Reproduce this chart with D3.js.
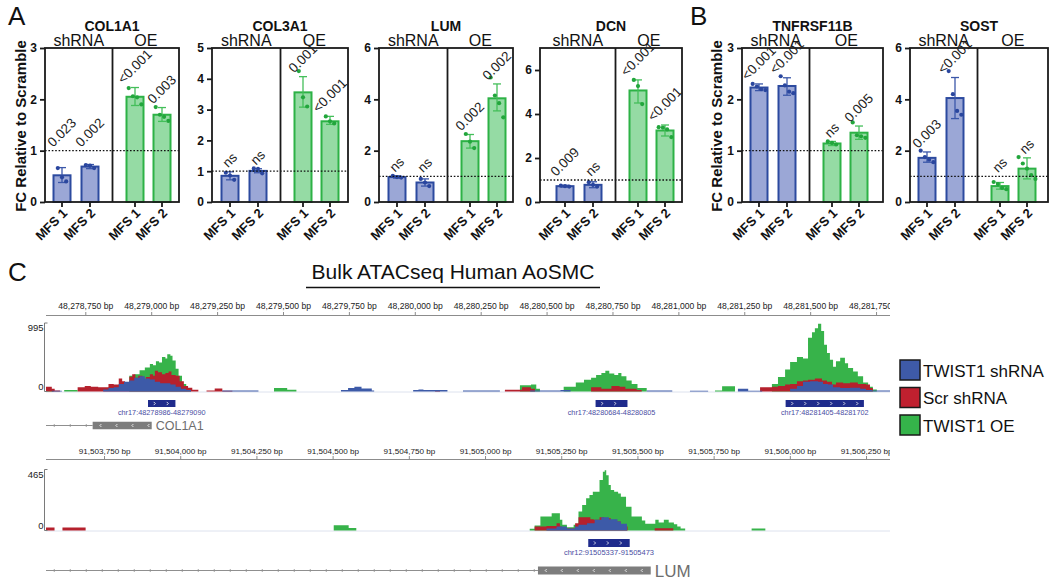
<!DOCTYPE html>
<html>
<head>
<meta charset="utf-8">
<script src="https://cdn.jsdelivr.net/npm/d3@7/dist/d3.min.js"></script>
<style>
html,body{margin:0;padding:0;background:#fff;}
svg{display:block;font-family:"Liberation Sans",Arial,Helvetica,sans-serif;}
</style>
</head>
<body>
<svg id="fig" width="1050" height="583"></svg>
<script>
// ================= DATA =================
const conditions = ["shRNA", "OE"];
const samples = ["MFS 1", "MFS 2", "MFS 1", "MFS 2"];
const genes = ["COL1A1", "COL3A1", "LUM", "DCN", "TNFRSF11B", "SOST"];
const yMaxes = [3, 5, 6, 7, 3, 6];
const yTicks = [[0,1,2,3],[0,1,2,3,4,5],[0,2,4,6],[0,2,4,6],[0,1,2,3],[0,2,4,6]];
const refLine = 1;

const col1a1Mean = [0.52, 0.69, 2.05, 1.70];
const col1a1Err  = [[0.38,0.67],[0.65,0.73],[1.88,2.23],[1.57,1.84]];
const col1a1Pts  = [[0.66,0.48,0.40],[0.72,0.71,0.66],[2.22,2.06,2.04,1.90],[1.85,1.70,1.66,1.58]];
const col1a1P    = ["0.023","0.002","<0.001","0.003"];

const col3a1Mean = [0.85, 1.01, 3.56, 2.62];
const col3a1Err  = [[0.72,0.98],[0.95,1.08],[3.08,4.07],[2.52,2.78]];
const col3a1Pts  = [[0.95,0.86,0.72],[1.09,1.08,0.93],[4.25,3.40,3.10],[2.78,2.62,2.55]];
const col3a1P    = ["ns","ns","0.001","<0.001"];

const lumMean = [0.97, 0.76, 2.37, 4.04];
const lumErr  = [[0.93,1.02],[0.62,0.90],[2.10,2.63],[3.55,4.60]];
const lumPts  = [[1.02,0.97,0.95],[0.90,0.76,0.62],[2.65,2.35,2.10],[4.85,4.15,3.85,3.30]];
const lumP    = ["ns","ns","0.002","0.002"];

const dcnMean = [0.72, 0.78, 5.07, 3.25];
const dcnErr  = [[0.68,0.76],[0.65,0.92],[4.50,5.55],[3.00,3.50]];
const dcnPts  = [[0.74,0.72,0.70],[0.90,0.78,0.70],[5.55,5.27,4.45],[3.40,3.38,3.30,2.95]];
const dcnP    = ["0.009","ns","<0.001","<0.001"];

const tnfMean = [2.23, 2.26, 1.14, 1.35];
const tnfErr  = [[2.17,2.30],[2.08,2.42],[1.10,1.18],[1.22,1.48]];
const tnfPts  = [[2.30,2.25,2.20,2.18],[2.45,2.27,2.15,2.12],[1.18,1.15,1.12],[1.55,1.30,1.28,1.25]];
const tnfP    = ["<0.001","<0.001","ns","0.005"];

const sostMean = [1.72, 4.05, 0.62, 1.30];
const sostErr  = [[1.55,1.95],[3.25,4.85],[0.50,0.76],[0.90,1.72]];
const sostPts  = [[2.00,1.75,1.65,1.55],[5.10,4.20,3.55,3.40],[0.78,0.70,0.55,0.50],[1.75,1.50,1.30,1.05,0.90]];
const sostP    = ["0.003","<0.001","ns","ns"];

// ATAC-seq tracks
const legendLabels = ["TWIST1 shRNA", "Scr shRNA", "TWIST1 OE"];
const t1Chrom = "chr17", t1Start = 48278599, t1End = 48281801, t1Max = 995;
const t1Ticks = [48278750,48279000,48279250,48279500,48279750,48280000,48280250,48280500,48280750,48281000,48281250,48281500,48281750];
const t1Origin = 48278599; // signal steps are [bp offset from origin, value]
const t1Green = [[0,15],[29,0],[69,20],[120,0],[316,230],[335,250],[355,310],[375,350],[394,400],[406,380],[417,440],[429,420],[440,500],[453,480],[460,540],[472,520],[480,450],[492,330],[503,230],[516,110],[532,50],[550,0],[865,50],[915,25],[950,0],[1798,90],[1840,100],[1860,40],[1874,0],[1964,70],[2010,130],[2041,170],[2068,200],[2087,240],[2107,270],[2122,300],[2137,260],[2156,240],[2171,270],[2183,220],[2202,160],[2222,110],[2244,50],[2279,0],[2538,15],[2565,75],[2614,0],[2754,110],[2777,210],[2804,320],[2823,430],[2849,500],[2872,480],[2891,780],[2906,860],[2917,920],[2929,985],[2941,880],[2952,680],[2963,560],[2974,460],[2986,360],[2997,440],[3013,490],[3031,410],[3043,340],[3062,290],[3080,220],[3100,130],[3119,70],[3137,30],[3152,0]];
const t1Red = [[0,70],[22,40],[33,15],[53,0],[120,60],[147,80],[170,70],[198,60],[237,110],[257,100],[276,190],[289,150],[300,120],[316,215],[327,250],[339,200],[350,230],[366,180],[379,210],[394,250],[406,230],[413,300],[425,280],[440,250],[453,270],[465,290],[476,240],[492,230],[507,150],[523,80],[539,55],[555,25],[578,0],[609,15],[640,45],[669,10],[707,0],[1476,20],[1495,0],[1741,25],[1806,60],[1840,40],[1855,0],[2068,60],[2107,40],[2145,80],[2176,70],[2198,40],[2241,20],[2260,0],[2709,60],[2754,70],[2777,80],[2804,100],[2823,110],[2849,150],[2872,160],[2891,170],[2917,190],[2944,160],[2963,140],[2982,100],[2997,130],[3024,120],[3050,130],[3080,110],[3111,100],[3126,50],[3137,0]];
const t1Blue = [[22,10],[60,0],[217,30],[237,50],[257,60],[276,110],[296,140],[316,160],[335,200],[355,220],[375,190],[394,175],[413,140],[433,120],[453,120],[472,100],[492,70],[512,40],[532,20],[550,0],[669,15],[806,0],[1119,20],[1146,50],[1170,70],[1197,45],[1236,15],[1245,0],[1393,20],[1413,30],[1432,20],[1523,0],[1582,15],[1722,0],[1837,15],[1952,20],[1990,0],[2279,15],[2376,0],[2443,12],[2512,0],[2625,40],[2664,10],[2717,0],[2823,40],[2849,80],[2872,140],[2899,150],[2929,140],[2948,110],[2967,100],[2986,60],[3013,50],[3050,55],[3089,40],[3111,20],[3134,15],[3202,0]];
const t1Peaks = [[48278986,48279090],[48280684,48280805],[48281405,48281702]];
const t1GeneName = "COL1A1", t1Exon = [48278776, 48279000];

const t2Chrom = "chr12", t2Start = 91503558, t2End = 91506327, t2Max = 465;
const t2Ticks = [91503750,91504000,91504250,91504500,91504750,91505000,91505250,91505500,91505750,91506000,91506250];
const t2Green = [[91504502,40],[91504551,20],[91504576,0],[91505145,13],[91505161,38],[91505180,106],[91505217,132],[91505244,81],[91505252,43],[91505267,25],[91505289,43],[91505305,144],[91505317,195],[91505330,245],[91505341,270],[91505352,296],[91505374,385],[91505385,448],[91505391,460],[91505396,422],[91505404,347],[91505411,309],[91505422,296],[91505435,283],[91505444,258],[91505461,182],[91505479,106],[91505513,76],[91505524,51],[91505557,81],[91505568,61],[91505585,81],[91505601,61],[91505618,48],[91505629,30],[91505640,15],[91505655,0],[91505873,15],[91505918,0]];
const t2Red = [[91503558,22],[91503586,0],[91503612,22],[91503688,0],[91505161,30],[91505200,35],[91505233,56],[91505244,30],[91505250,15],[91505294,56],[91505305,101],[91505344,86],[91505355,81],[91505374,101],[91505389,94],[91505411,68],[91505444,30],[91505466,0],[91505555,18],[91505616,0]];
const t2Blue = [[91505200,15],[91505233,30],[91505267,15],[91505294,30],[91505305,43],[91505333,56],[91505358,81],[91505380,101],[91505405,86],[91505433,68],[91505444,51],[91505464,0]];
const t2Peaks = [[91505337,91505473]];
const t2GeneName = "LUM", t2Exon = [91505172, 91505542];

// ================= STYLE / LAYOUT =================
const FONT = '"Liberation Sans", Arial, Helvetica, sans-serif';
const shStyle = {fill:"#9ba7d6", stroke:"#2c4a9f", err:"#3b57a9", pt:"#2a469e"};
const oeStyle = {fill:"#95dba4", stroke:"#2db246", err:"#44bf5a", pt:"#22a63c"};
const sigColors = {blue:"#3d5aa8", red:"#b5212d", green:"#37b34a"};
const legendColors = ["#3e5aa8", "#c0202f", "#35b44a"];
const chartLayout = [
  {L:45,  W:134, pad:17},
  {L:212, W:136, pad:18},
  {L:379, W:134, pad:18},
  {L:540, W:142, pad:25},
  {L:742, W:141, pad:17},
  {L:910, W:138, pad:17}
];
const barOffsets = [0, 28, 73, 100];
const barW = 17;

const svg = d3.select("#fig");
svg.append("rect").attr("width",1050).attr("height",583).attr("fill","#fff");

const meansAll = [col1a1Mean, col3a1Mean, lumMean, dcnMean, tnfMean, sostMean];
const errAll = [col1a1Err, col3a1Err, lumErr, dcnErr, tnfErr, sostErr];
const ptsAll = [col1a1Pts, col3a1Pts, lumPts, dcnPts, tnfPts, sostPts];
const pAll = [col1a1P, col3a1P, lumP, dcnP, tnfP, sostP];

function drawBarChart(i) {
  const lay = chartLayout[i];
  const top = 48, bottom = 202;
  const y = d3.scaleLinear().domain([0, yMaxes[i]]).range([bottom, top]);
  const x = d3.scaleOrdinal().domain(d3.range(4)).range(barOffsets.map(o => lay.L + lay.pad + o));
  const divX = lay.L + lay.pad + (barOffsets[1] + barOffsets[2]) / 2;
  const right = lay.L + lay.W;
  const g = svg.append("g");
  const st = j => (j < 2 ? shStyle : oeStyle);
  const mean = meansAll[i], err = errAll[i], pts = ptsAll[i], pv = pAll[i];

  g.append("text").attr("x", lay.L + lay.W/2).attr("y", 31).attr("text-anchor","middle")
    .attr("font-size",14).attr("font-weight","bold").attr("fill","#111").text(genes[i]);
  g.append("text").attr("x", (lay.L + divX)/2).attr("y", 46).attr("text-anchor","middle")
    .attr("font-size",16).attr("fill","#111").text(conditions[0]);
  g.append("text").attr("x", (divX + right)/2).attr("y", 46).attr("text-anchor","middle")
    .attr("font-size",16).attr("fill","#111").text(conditions[1]);

  g.selectAll("rect.bar").data(mean).join("rect").attr("class","bar")
    .attr("x", (d,j) => x(j) - barW/2).attr("y", d => y(d))
    .attr("width", barW).attr("height", d => y(0) - y(d))
    .attr("fill", (d,j) => st(j).fill).attr("stroke", (d,j) => st(j).stroke).attr("stroke-width", 2);

  err.forEach((e, j) => {
    const c = st(j).err;
    g.append("line").attr("x1", x(j)).attr("x2", x(j)).attr("y1", y(e[0])).attr("y2", y(e[1]))
      .attr("stroke", c).attr("stroke-width", 1.3);
    [e[0], e[1]].forEach(v => g.append("line").attr("x1", x(j)-4).attr("x2", x(j)+4)
      .attr("y1", y(v)).attr("y2", y(v)).attr("stroke", c).attr("stroke-width", 1.3));
  });

  pts.forEach((arr, j) => arr.forEach((v, k) => {
    g.append("circle").attr("cx", x(j) + (k - (arr.length-1)/2) * 4.2).attr("cy", y(v))
      .attr("r", 2.1).attr("fill", st(j).pt);
  }));

  g.append("line").attr("x1", lay.L).attr("x2", right).attr("y1", y(refLine)).attr("y2", y(refLine))
    .attr("stroke","#111").attr("stroke-width",1.3).attr("stroke-dasharray","1.6,1.8");

  g.append("rect").attr("x", lay.L).attr("y", top).attr("width", lay.W).attr("height", bottom - top)
    .attr("fill","none").attr("stroke","#1a1a1a").attr("stroke-width",1.8);
  g.append("line").attr("x1", divX).attr("x2", divX).attr("y1", top).attr("y2", bottom)
    .attr("stroke","#1a1a1a").attr("stroke-width",1.8);

  const ax = g.append("g").attr("transform", `translate(${lay.L},0)`)
    .call(d3.axisLeft(y).tickValues(yTicks[i]).tickSize(5).tickPadding(3).tickFormat(d3.format("d")));
  ax.attr("font-family", FONT);
  ax.select(".domain").remove();
  ax.selectAll(".tick line").attr("stroke","#1a1a1a").attr("stroke-width",1.8);
  ax.selectAll(".tick text").attr("font-size",12).attr("font-weight","bold").attr("fill","#111");

  d3.range(4).forEach(j => {
    g.append("line").attr("x1", x(j)).attr("x2", x(j)).attr("y1", bottom).attr("y2", bottom + 5)
      .attr("stroke","#1a1a1a").attr("stroke-width",1.8);
    g.append("text").attr("transform", `translate(${x(j)+6},${bottom+12}) rotate(-45)`)
      .attr("text-anchor","end").attr("font-size",13).attr("font-weight","bold").attr("fill","#111")
      .text(samples[j]);
  });

  pv.forEach((p, j) => {
    const base = Math.max(err[j][1], refLine);
    const t = g.append("text").attr("font-size",13.5).attr("fill","#222").attr("text-anchor","middle").text(p);
    const L = t.node().getComputedTextLength();
    const qx = x(j) + 3, qy = y(base) - 3 - 0.354 * L;
    t.attr("transform", `translate(${qx},${qy}) rotate(-45)`);
  });
}
d3.range(genes.length).forEach(drawBarChart);

// y-axis titles and panel letters
[26, 722].forEach(xx => svg.append("text").attr("transform", `translate(${xx},126) rotate(-90)`)
  .attr("text-anchor","middle").attr("font-size",15).attr("font-weight","bold").attr("fill","#111")
  .text("FC Relative to Scramble"));
svg.append("text").attr("x",8).attr("y",25).attr("font-size",26).attr("fill","#111").text("A");
svg.append("text").attr("x",690).attr("y",25).attr("font-size",26).attr("fill","#111").text("B");
svg.append("text").attr("x",8).attr("y",281).attr("font-size",26).attr("fill","#111").text("C");

// Panel C title
svg.append("text").attr("x",453).attr("y",279).attr("text-anchor","middle").attr("font-size",21)
  .attr("fill","#111").text("Bulk ATACseq Human AoSMC");
svg.append("line").attr("x1",306).attr("x2",600).attr("y1",287.5).attr("y2",287.5)
  .attr("stroke","#111").attr("stroke-width",1.6);

// ================= TRACKS =================
const trackX0 = 46, trackX1 = 890;
function chevrons(g, x0, x1, yc, dir, color, step, size) {
  const pts = d3.range(x0 + step/2, x1 - 2, step);
  pts.forEach(px => {
    const d = dir > 0
      ? `M${px-size/2},${yc-size} L${px+size/2},${yc} L${px-size/2},${yc+size}`
      : `M${px+size/2},${yc-size} L${px-size/2},${yc} L${px+size/2},${yc+size}`;
    g.append("path").attr("d", d).attr("fill","none").attr("stroke", color).attr("stroke-width",0.8);
  });
}

function drawTrack(t) {
  const x = d3.scaleLinear().domain([t.start, t.end]).range([trackX0, trackX1]);
  const y = d3.scaleLinear().domain([0, t.max]).range([t.base, t.top]);
  const g = svg.append("g");
  const clipId = "clip" + t.id;
  svg.append("clipPath").attr("id", clipId).append("rect")
    .attr("x", trackX0).attr("y", t.rulerY - 16).attr("width", trackX1 - trackX0).attr("height", 17);

  // ruler
  g.append("line").attr("x1", trackX0).attr("x2", trackX1).attr("y1", t.rulerY).attr("y2", t.rulerY)
    .attr("stroke","#8c8c8c").attr("stroke-width",1);
  const rg = g.append("g").attr("clip-path", `url(#${clipId})`);
  rg.selectAll("line").data(t.ticks).join("line")
    .attr("x1", d => x(d)).attr("x2", d => x(d)).attr("y1", t.rulerY - 3.5).attr("y2", t.rulerY)
    .attr("stroke","#8c8c8c");
  rg.selectAll("text").data(t.ticks).join("text")
    .attr("x", d => x(d)).attr("y", t.labelY).attr("text-anchor","middle")
    .attr("font-size", t.rulerFont).attr("fill","#222").text(d => d3.format(",")(d) + " bp");

  // baseline
  g.append("line").attr("x1", trackX0).attr("x2", trackX1).attr("y1", t.base + 0.5).attr("y2", t.base + 0.5)
    .attr("stroke","#dde2ee").attr("stroke-width",1);

  const area = d3.area().x(d => x(d[0])).y0(t.base).y1(d => y(d[1])).curve(d3.curveStepAfter);
  [[t.green, sigColors.green], [t.red, sigColors.red], [t.blue, sigColors.blue]].forEach(([data, c]) => {
    g.append("path").datum(data).attr("d", area).attr("fill", c);
  });

  // data range bracket
  const bx = trackX0 - 1.5;
  g.append("path").attr("d", `M${bx+3},${t.top} L${bx},${t.top} L${bx},${t.base} L${bx+3},${t.base}`)
    .attr("fill","none").attr("stroke","#7a7a7a").attr("stroke-width",1);
  g.append("text").attr("x", bx - 1).attr("y", t.top + 8).attr("text-anchor","end")
    .attr("font-size",9.5).attr("fill","#222").text(t.max);
  g.append("text").attr("x", bx - 1).attr("y", t.base - 2).attr("text-anchor","end")
    .attr("font-size",9.5).attr("fill","#222").text(0);

  // peaks
  t.peaks.forEach(p => {
    g.append("rect").attr("x", x(p[0])).attr("y", t.peakY).attr("width", x(p[1]) - x(p[0]))
      .attr("height", t.peakH).attr("fill","#1f2b8c");
    chevrons(g, x(p[0]), x(p[1]), t.peakY + t.peakH/2, 1, "#ffffff", 13, 1.6);
    g.append("text").attr("x", (x(p[0]) + x(p[1]))/2).attr("y", t.peakLabelY).attr("text-anchor","middle")
      .attr("font-size", t.peakFont).attr("fill","#4a4ea3").text(`${t.chrom}:${p[0]}-${p[1]}`);
  });

  // gene
  g.append("line").attr("x1", trackX0).attr("x2", x(t.exon[0])).attr("y1", t.geneY).attr("y2", t.geneY)
    .attr("stroke","#8f8f8f").attr("stroke-width",1);
  chevrons(g, trackX0, x(t.exon[0]), t.geneY, -1, "#8f8f8f", 16, 1.5);
  g.append("rect").attr("x", x(t.exon[0])).attr("y", t.geneY - t.geneH/2)
    .attr("width", x(t.exon[1]) - x(t.exon[0])).attr("height", t.geneH).attr("fill","#7d7d7d");
  chevrons(g, x(t.exon[0]), x(t.exon[1]), t.geneY, -1, "#ffffff", 16, 1.5);
  g.append("text").attr("x", x(t.exon[1]) + 4).attr("y", t.geneY + t.geneFont*0.36)
    .attr("font-size", t.geneFont).attr("fill","#6e6e6e").text(t.geneName);
}

drawTrack({
  id: 1, start: t1Start, end: t1End, ticks: t1Ticks, max: t1Max, chrom: t1Chrom,
  green: t1Green.map(d => [t1Origin + d[0], d[1]]),
  red: t1Red.map(d => [t1Origin + d[0], d[1]]),
  blue: t1Blue.map(d => [t1Origin + d[0], d[1]]),
  peaks: t1Peaks, exon: t1Exon, geneName: t1GeneName,
  rulerY: 315.5, labelY: 308.5, rulerFont: 8.6,
  top: 323, base: 391.5,
  peakY: 400, peakH: 7, peakLabelY: 414.5, peakFont: 7.3,
  geneY: 425.5, geneH: 7.5, geneFont: 12.5
});
drawTrack({
  id: 2, start: t2Start, end: t2End, ticks: t2Ticks, max: t2Max, chrom: t2Chrom,
  green: t2Green, red: t2Red, blue: t2Blue,
  peaks: t2Peaks, exon: t2Exon, geneName: t2GeneName,
  rulerY: 459.5, labelY: 453.5, rulerFont: 8.1,
  top: 469.5, base: 530.5,
  peakY: 539, peakH: 8, peakLabelY: 554.5, peakFont: 7.5,
  geneY: 570.5, geneH: 8, geneFont: 17
});

// legend
const lg = svg.append("g");
legendLabels.forEach((lab, k) => {
  const yy = 360 + k * 27.5;
  lg.append("rect").attr("x", 900).attr("y", yy).attr("width", 20).attr("height", 20)
    .attr("fill", legendColors[k]).attr("stroke","#1a1a1a").attr("stroke-width",1.5);
  lg.append("text").attr("x", 923).attr("y", yy + 16.5).attr("font-size",17).attr("fill","#111").text(lab);
});
</script>
</body>
</html>
